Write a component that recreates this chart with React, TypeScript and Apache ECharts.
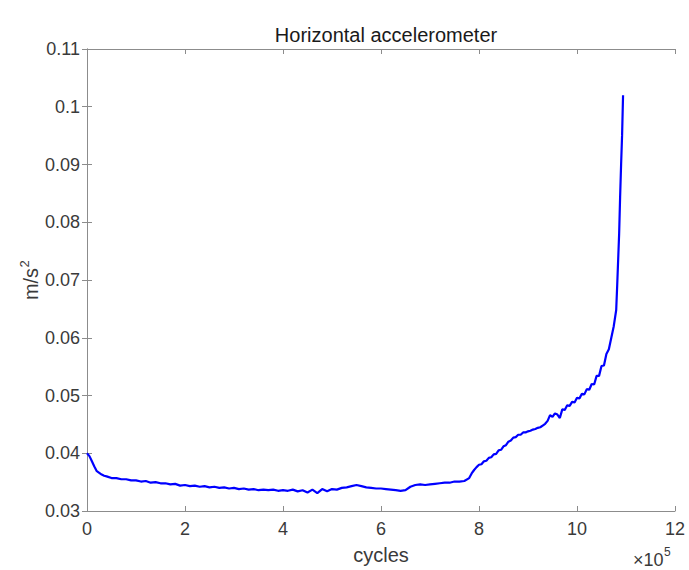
import React, { useEffect, useRef } from "react";
import * as echarts from "echarts";

const titleText = "Horizontal accelerometer";
const xName = "cycles";
const xTicks = [0, 200000, 400000, 600000, 800000, 1000000, 1200000];
const yTicks = [0.03, 0.04, 0.05, 0.06, 0.07, 0.08, 0.09, 0.1, 0.11];

const cycles = [
  0, 5000, 10000, 15000, 20000, 25000, 30000, 35000,
  40000, 50000, 60000, 70000, 80000, 90000, 100000, 110000, 120000, 130000,
  140000, 150000, 160000, 170000, 180000, 190000, 200000, 210000, 220000, 230000,
  240000, 250000, 260000, 270000, 280000, 290000, 300000, 310000, 320000, 330000,
  340000, 350000, 360000, 370000, 380000, 390000, 400000, 410000, 420000, 430000,
  440000, 450000, 460000, 470000, 480000, 490000, 500000, 510000, 520000, 530000,
  540000, 550000, 560000, 570000, 580000, 590000, 600000, 610000, 620000, 630000,
  640000, 650000, 660000, 670000, 680000, 690000, 700000, 710000, 720000, 730000,
  740000, 750000, 760000, 770000,
  780000, 785000, 790000, 795000, 800000, 805000, 810000, 815000, 820000, 825000,
  830000, 835000, 840000, 845000, 850000, 855000, 860000, 865000, 870000, 875000,
  880000, 885000, 890000, 895000, 900000, 905000, 910000, 915000, 920000, 925000,
  930000, 935000, 940000, 945000, 950000, 955000, 960000, 965000, 970000, 975000,
  980000, 985000, 990000, 995000, 1000000, 1005000, 1010000, 1015000, 1020000, 1025000,
  1030000, 1035000, 1040000, 1045000, 1050000, 1055000, 1060000, 1065000, 1070000, 1075000,
  1080000, 1082000, 1084000, 1086000, 1088000, 1090000, 1092000, 1094000,
];

const accel = [
  0.04, 0.0395, 0.0386, 0.0377, 0.0369, 0.0366, 0.0363, 0.0361,
  0.036, 0.0357, 0.0357, 0.0355, 0.0355, 0.0353, 0.0353, 0.0351, 0.0352, 0.0349,
  0.035, 0.0348, 0.0348, 0.0346, 0.0347, 0.0344, 0.0345, 0.0343, 0.0344, 0.0342,
  0.0343, 0.0341, 0.0342, 0.034, 0.0341, 0.0339, 0.034, 0.0338, 0.0339, 0.0337,
  0.0338, 0.0336, 0.0337, 0.0336, 0.0337, 0.0335, 0.0336, 0.0335, 0.0337, 0.0334,
  0.0336, 0.0332, 0.0337, 0.0331, 0.0338, 0.0334, 0.0338, 0.0337, 0.034, 0.0341,
  0.0343, 0.0345, 0.0343, 0.0341, 0.034, 0.0339, 0.0339, 0.0338, 0.0337, 0.0336,
  0.0335, 0.0336, 0.0342, 0.0345, 0.0346, 0.0345, 0.0346, 0.0347, 0.0348, 0.0349,
  0.0349, 0.0351, 0.0351, 0.0352,
  0.0357, 0.0365, 0.0371, 0.0376, 0.038, 0.0381, 0.0386, 0.0387, 0.0392, 0.0393,
  0.0398, 0.0399, 0.0405, 0.0406, 0.0412, 0.0414, 0.042, 0.0422, 0.0427, 0.0428,
  0.0432, 0.0432, 0.0436, 0.0436, 0.0438, 0.0439, 0.0441, 0.0442, 0.0444, 0.0445,
  0.0448, 0.0451, 0.0456, 0.0466, 0.0463, 0.0469, 0.0467, 0.0461, 0.0476, 0.0475,
  0.0483, 0.0482, 0.0489, 0.0488, 0.0496, 0.0495, 0.0503, 0.0502, 0.0511, 0.051,
  0.052, 0.0519, 0.0534, 0.0534, 0.0551, 0.0552, 0.0572, 0.058, 0.06, 0.062,
  0.0648, 0.069, 0.0735, 0.078, 0.0844, 0.09, 0.095, 0.102,
];

const AXIS = "#8c8c8c";
const LABEL = "#3a3a3a";
const FONT = "'Liberation Sans', Arial, Helvetica, sans-serif";

export default function App() {
  const ref = useRef<HTMLDivElement>(null);
  useEffect(() => {
    if (!ref.current) return;
    const chart = echarts.init(ref.current, null, { renderer: "svg" });
    const xMin = xTicks[0];
    const xMax = xTicks[xTicks.length - 1];
    const xInt = xTicks[1] - xTicks[0];
    const yMin = yTicks[0];
    const yMax = yTicks[yTicks.length - 1];
    const yInt = 0.01;
    const common = {
      axisLine: { show: true, lineStyle: { color: AXIS, width: 1 } },
      axisTick: { show: true, inside: true, length: 5, lineStyle: { color: AXIS } },
      splitLine: { show: false },
    };
    chart.setOption({
      animation: false,
      backgroundColor: "#ffffff",
      textStyle: { fontFamily: FONT },
      title: {
        text: titleText,
        left: 381,
        top: 20,
        textAlign: "center",
        textStyle: { fontFamily: FONT, fontSize: 20, fontWeight: "normal", color: "#1a1a1a" },
      },
      grid: { left: 87, right: 14, top: 49, bottom: 59, containLabel: false },
      xAxis: [
        {
          type: "value",
          min: xMin,
          max: xMax,
          interval: xInt,
          position: "bottom",
          ...common,
          name: xName,
          nameLocation: "middle",
          nameGap: 34,
          nameTextStyle: { fontFamily: FONT, fontSize: 20, color: LABEL },
          axisLabel: {
            margin: 9,
            fontFamily: FONT,
            fontSize: 18,
            color: LABEL,
            formatter: (v: number) => String(Math.round(v / 1e5)),
          },
        },
        {
          type: "value",
          min: xMin,
          max: xMax,
          interval: xInt,
          position: "top",
          ...common,
          axisLabel: { show: false },
        },
      ],
      yAxis: [
        {
          type: "value",
          min: yMin,
          max: yMax,
          interval: yInt,
          position: "left",
          ...common,
          axisLabel: {
            margin: 7,
            fontFamily: FONT,
            fontSize: 18,
            color: LABEL,
            formatter: (v: number) => String(parseFloat(v.toFixed(2))),
          },
        },
        {
          type: "value",
          min: yMin,
          max: yMax,
          interval: yInt,
          position: "right",
          ...common,
          axisLabel: { show: false },
        },
      ],
      graphic: [
        {
          type: "text",
          x: 31,
          y: 284,
          rotation: Math.PI / 2,
          style: {
            text: "m/s",
            fontFamily: FONT,
            fontSize: 20,
            fill: LABEL,
            align: "center",
            verticalAlign: "middle",
          },
        },
        {
          type: "text",
          x: 24,
          y: 264,
          rotation: Math.PI / 2,
          style: {
            text: "2",
            fontFamily: FONT,
            fontSize: 13,
            fill: LABEL,
            align: "center",
            verticalAlign: "middle",
          },
        },
        {
          type: "text",
          x: 633,
          y: 560,
          style: {
            text: "×10",
            fontFamily: FONT,
            fontSize: 18,
            fill: LABEL,
            align: "left",
            verticalAlign: "middle",
          },
        },
        {
          type: "text",
          x: 664,
          y: 552,
          style: {
            text: "5",
            fontFamily: FONT,
            fontSize: 12,
            fill: LABEL,
            align: "left",
            verticalAlign: "middle",
          },
        },
      ],
      series: [
        {
          type: "line",
          xAxisIndex: 0,
          yAxisIndex: 0,
          data: cycles.map((c, i) => [c, accel[i]]),
          showSymbol: false,
          symbol: "none",
          lineStyle: { color: "#0000ff", width: 2.2 },
          silent: true,
        },
      ],
    });
    return () => chart.dispose();
  }, []);
  return (
    <div
      ref={ref}
      style={{ position: "absolute", left: 0, top: 0, width: 689, height: 570 }}
    />
  );
}
